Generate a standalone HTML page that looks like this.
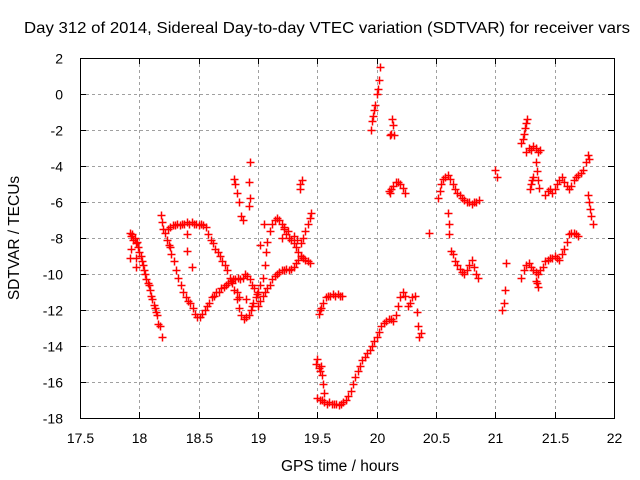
<!DOCTYPE html>
<html><head><meta charset="utf-8"><style>
body{margin:0;background:#fff;}
svg{display:block;font-family:"Liberation Sans",sans-serif;}
</style></head><body>
<svg id="chart" width="640" height="480" viewBox="0 0 640 480">
<rect width="640" height="480" fill="#fff"/>
<text x="327" y="33" font-size="16" text-anchor="middle" textLength="606" lengthAdjust="spacingAndGlyphs">Day 312 of 2014, Sidereal Day-to-day VTEC variation (SDTVAR) for receiver vars</text>
<text x="340" y="471" font-size="15.5" text-anchor="middle">GPS time / hours</text>
<text transform="translate(19,238) rotate(-90)" font-size="15.5" text-anchor="middle">SDTVAR / TECUs</text>
<g id="grid"></g>
<g id="ticks"></g>
<g id="marks"></g>
<rect x="80.5" y="58.5" width="534" height="360" fill="none" stroke="#000" stroke-width="1"/>
</svg>
<script>
const xTicks = [17.5,18,18.5,19,19.5,20,20.5,21,21.5,22];
const xTickLabels = ["17.5","18","18.5","19","19.5","20","20.5","21","21.5","22"];
const yTicks = [-18,-16,-14,-12,-10,-8,-6,-4,-2,0,2];
const yTickLabels = ["-18","-16","-14","-12","-10","-8","-6","-4","-2","0","2"];

const segA = [[17.92,-7.7],[17.93,-7.9],[17.94,-7.8],[17.95,-8.1],[17.96,-8.0],[17.97,-8.3],[17.98,-8.2],[17.99,-8.5],[18.0,-8.8],[18.01,-9.0],[18.02,-9.3],[18.03,-9.5],[18.04,-9.8],[18.05,-10.0],[18.06,-10.3],[18.07,-10.5],[18.08,-10.6],[18.09,-10.9],[18.1,-11.2],[18.11,-11.4],[18.12,-11.7],[18.13,-11.9],[18.14,-12.1],[18.15,-12.3],[18.16,-12.8],[18.17,-12.9],[18.19,-13.5],[17.93,-8.6],[17.92,-9.1],[17.97,-9.1],[17.97,-9.6]];
const segB = [[18.18,-6.7],[18.19,-7.1],[18.2,-7.5],[18.22,-7.7],[18.24,-7.5],[18.26,-7.4],[18.28,-7.3],[18.3,-7.3],[18.32,-7.2],[18.34,-7.3],[18.36,-7.2],[18.38,-7.2],[18.4,-7.1],[18.42,-7.2],[18.44,-7.1],[18.46,-7.2],[18.48,-7.2],[18.5,-7.3],[18.52,-7.2],[18.54,-7.3],[18.56,-7.4],[18.58,-7.8],[18.6,-8.1],[18.62,-8.3],[18.64,-8.6],[18.66,-8.8],[18.68,-9.0],[18.7,-9.3],[18.72,-9.5],[18.74,-9.8],[18.76,-10.2],[18.78,-10.5],[18.8,-10.9],[18.82,-11.4],[18.84,-11.9],[18.86,-12.3],[18.88,-12.5],[18.9,-12.4],[18.92,-12.3],[18.94,-12.0],[18.96,-11.6],[18.98,-11.3],[19.0,-11.0],[19.02,-10.6],[19.04,-10.2],[19.06,-9.5],[19.07,-8.8],[19.08,-8.2],[19.1,-7.6],[19.12,-7.2],[19.14,-7.0],[19.16,-6.9],[19.18,-7.0],[19.2,-7.2],[19.22,-7.5],[19.24,-7.8],[19.26,-8.0],[19.28,-8.1],[19.3,-8.3],[19.32,-8.5],[19.34,-8.8],[19.36,-9.0],[19.38,-9.1],[19.4,-9.2],[19.42,-9.3],[19.44,-9.4],[19.36,-8.3],[19.38,-8.0],[19.4,-7.6],[19.42,-7.2],[19.44,-6.9],[19.45,-6.6],[19.2,-8.0],[19.25,-7.6],[19.3,-7.9],[19.33,-8.1],[19.22,-7.4],[19.02,-8.4],[19.05,-7.2]];
const segC = [[18.23,-8.1],[18.25,-8.4],[18.27,-8.9],[18.29,-9.3],[18.31,-9.8],[18.33,-10.2],[18.35,-10.6],[18.37,-11.0],[18.39,-11.3],[18.41,-11.5],[18.43,-11.6],[18.45,-11.9],[18.47,-12.2],[18.49,-12.4],[18.51,-12.4],[18.53,-12.2],[18.55,-12.0],[18.57,-11.8],[18.59,-11.6],[18.61,-11.3],[18.63,-11.2],[18.65,-11.0],[18.67,-11.0],[18.69,-10.8],[18.71,-10.7],[18.73,-10.6],[18.75,-10.5],[18.77,-10.4],[18.79,-10.3],[18.81,-10.3],[18.83,-10.2],[18.85,-10.3],[18.87,-10.2],[18.89,-10.0],[18.91,-10.1],[18.93,-10.3],[18.95,-10.6],[18.97,-10.8],[18.99,-11.1],[18.82,-11.0],[18.84,-11.3],[18.9,-11.4],[18.95,-11.8],[19.0,-11.8],[19.02,-11.5],[19.04,-11.2],[19.06,-11.0],[19.08,-10.8],[19.1,-10.6],[19.12,-10.3],[19.14,-10.1],[19.16,-10.0],[19.18,-9.9],[19.2,-9.8],[19.22,-9.8],[19.24,-9.7],[19.26,-9.8],[19.28,-9.7],[19.3,-9.6],[19.32,-9.4],[19.34,-9.2],[19.36,-9.0],[18.26,-8.5],[18.4,-8.7],[18.44,-9.6],[18.4,-7.8]];
const segScatter = [[18.8,-4.7],[18.81,-5.0],[18.82,-5.5],[18.84,-6.0],[18.86,-6.8],[18.87,-7.0],[18.93,-3.8],[18.92,-4.9],[18.93,-5.8],[18.92,-6.2],[19.35,-5.0],[19.37,-4.8],[19.35,-5.3]];
const segD = [[19.51,-12.2],[19.52,-12.0],[19.53,-11.9],[19.55,-11.6],[19.57,-11.3],[19.59,-11.2],[19.61,-11.2],[19.63,-11.1],[19.65,-11.2],[19.67,-11.1],[19.69,-11.2],[19.71,-11.2]];
const segE = [[19.49,-15.0],[19.5,-14.7],[19.51,-15.2],[19.52,-15.4],[19.53,-15.1],[19.54,-15.6],[19.55,-16.1],[19.56,-16.6],[19.5,-16.9],[19.52,-17.0],[19.54,-17.0],[19.56,-17.1],[19.58,-17.2],[19.6,-17.1],[19.62,-17.2],[19.64,-17.2],[19.66,-17.2],[19.68,-17.3],[19.7,-17.2],[19.72,-17.1],[19.74,-17.0],[19.76,-16.8],[19.78,-16.5],[19.8,-16.1],[19.82,-15.7],[19.84,-15.4],[19.86,-15.1],[19.88,-14.8],[19.9,-14.6],[19.92,-14.4],[19.94,-14.2],[19.96,-14.0],[19.98,-13.7],[20.0,-13.5],[20.02,-13.2],[20.04,-12.9],[20.06,-12.7],[20.08,-12.6],[20.1,-12.5],[20.12,-12.5],[20.14,-12.6],[20.16,-12.3],[20.18,-11.8],[20.2,-11.3],[20.22,-11.0],[20.24,-11.2],[20.26,-11.8],[20.28,-11.6],[20.3,-11.3],[20.32,-11.2],[20.34,-12.1],[20.35,-12.9],[20.37,-13.3],[20.36,-13.5]];
const segF = [[19.95,-2.0],[19.96,-1.5],[19.97,-1.2],[19.98,-0.9],[19.99,-0.6],[20.0,0.0],[20.01,0.3],[20.02,0.8],[20.03,1.5],[20.13,-1.4],[20.14,-1.7],[20.12,-2.2],[20.15,-2.3],[20.11,-2.3]];
const segG = [[20.1,-5.4],[20.11,-5.5],[20.12,-5.3],[20.14,-5.1],[20.16,-4.9],[20.18,-4.9],[20.2,-5.0],[20.22,-5.2],[20.24,-5.5],[20.44,-7.7]];
const segI = [[20.52,-5.8],[20.53,-5.4],[20.54,-5.0],[20.56,-4.7],[20.58,-4.6],[20.6,-4.5],[20.62,-4.7],[20.64,-5.0],[20.66,-5.3],[20.68,-5.5],[20.7,-5.6],[20.72,-5.8],[20.74,-5.9],[20.76,-6.0],[20.78,-6.0],[20.8,-6.1],[20.82,-6.0],[20.84,-6.0],[20.86,-5.9],[20.6,-6.6],[20.61,-7.2],[20.61,-7.8],[20.63,-8.7],[20.64,-8.9],[20.66,-9.3],[20.68,-9.5],[20.7,-9.7],[20.72,-9.9],[20.74,-10.0],[20.76,-9.8],[20.78,-9.5],[20.8,-9.2],[20.82,-9.6],[20.84,-10.0],[20.85,-10.2]];
const segJ = [[21.0,-4.2],[21.01,-4.6],[21.06,-12.0],[21.07,-11.6],[21.08,-10.9],[21.09,-9.4]];
const segK = [[21.22,-2.7],[21.23,-2.5],[21.24,-2.2],[21.25,-1.9],[21.26,-1.6],[21.27,-1.4],[21.26,-3.2],[21.28,-3.0],[21.3,-3.1],[21.32,-2.9],[21.34,-3.0],[21.36,-3.2],[21.38,-3.1],[21.34,-3.8],[21.35,-4.3],[21.36,-4.8],[21.37,-5.2]];
const segL = [[21.22,-10.2],[21.24,-9.8],[21.26,-9.5],[21.28,-9.4],[21.3,-9.6],[21.32,-9.8],[21.34,-9.9],[21.36,-10.0],[21.38,-9.8],[21.4,-9.6],[21.42,-9.3],[21.44,-9.2],[21.46,-9.1],[21.48,-9.1],[21.5,-9.0],[21.52,-9.1],[21.54,-9.2],[21.56,-8.9],[21.58,-8.6],[21.6,-8.2],[21.62,-7.8],[21.64,-7.7],[21.66,-7.7],[21.68,-7.8],[21.7,-7.9],[21.35,-10.5],[21.36,-10.7],[21.34,-10.4]];
const segM = [[21.29,-5.3],[21.3,-5.0],[21.31,-4.8],[21.32,-4.6],[21.42,-5.6],[21.44,-5.4],[21.46,-5.3],[21.48,-5.5],[21.5,-5.3],[21.52,-5.0],[21.54,-4.8],[21.56,-4.6],[21.58,-4.9],[21.6,-5.1],[21.62,-5.3],[21.64,-5.1],[21.66,-4.8],[21.68,-4.6],[21.7,-4.5],[21.72,-4.4],[21.74,-4.2],[21.76,-3.8],[21.78,-3.4],[21.79,-3.6],[21.78,-5.6],[21.79,-6.0],[21.8,-6.4],[21.81,-6.8],[21.82,-7.2]];

const allSegs = [segA,segB,segC,segScatter,segD,segE,segF,segG,segI,segJ,segK,segL,segM];
const X0=80,X1=614,Y0=418,Y1=58;
function xs(v){return X0+(v-17.5)/(22-17.5)*(X1-X0);}
function ys(v){return Y0-(v+18)/20*(Y0-Y1);}
const NS="http://www.w3.org/2000/svg";
const grid=document.getElementById('grid'),ticks=document.getElementById('ticks'),marks=document.getElementById('marks');
function mk(tag,attrs,parent){const e=document.createElementNS(NS,tag);for(const k in attrs)e.setAttribute(k,attrs[k]);parent.appendChild(e);return e;}
xTicks.forEach((t,i)=>{
  const x=Math.round(xs(t))+0.5;
  if(i>0&&i<xTicks.length-1){const g=mk('line',{x1:x,x2:x,y1:Y1,y2:Y0,stroke:'#a0a0a0','stroke-dasharray':'3,3'},grid);
  
  }
  const a=mk('line',{x1:x,x2:x,y1:Y0,y2:Y0-6,stroke:'#000'},ticks);
  
  
  const b=mk('line',{x1:x,x2:x,y1:Y1,y2:Y1+6,stroke:'#000'},ticks);
  
  
  const l=mk('text',{x:x,y:Y0+25,'font-size':14,'text-anchor':'middle'},ticks);
  l.textContent=xTickLabels[i];
  
  
});
yTicks.forEach((t,i)=>{
  const y=Math.round(ys(t))+0.5;
  if(i>0&&i<yTicks.length-1){const g=mk('line',{x1:X0,x2:X1,y1:y,y2:y,stroke:'#a0a0a0','stroke-dasharray':'3,3'},grid);
  
  }
  const a=mk('line',{x1:X0,x2:X0+6,y1:y,y2:y,stroke:'#000'},ticks);
  
  
  const b=mk('line',{x1:X1,x2:X1-6,y1:y,y2:y,stroke:'#000'},ticks);
  
  
  const l=mk('text',{x:X0-17,y:y+5,'font-size':14,'text-anchor':'end'},ticks);
  l.textContent=yTickLabels[i];
  
  
});
allSegs.forEach(seg=>seg.forEach(p=>{
  const x=Math.round(xs(p[0]))+0.5,y=Math.round(ys(p[1]))+0.5;
  const m=mk('path',{d:`M${x-4} ${y}H${x+4}M${x} ${y-4}V${y+4}`,stroke:'#ff0000','stroke-width':1.5,fill:'none'},marks);
  
  
}));
</script>
</body></html>
